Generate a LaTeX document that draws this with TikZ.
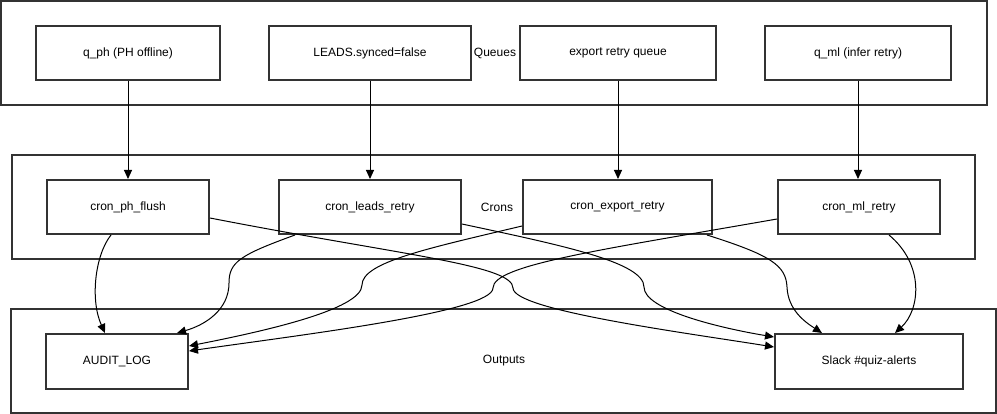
\documentclass[tikz,border=0pt]{standalone}
\usepackage{fontspec}
\setmainfont{Liberation Sans}
\usetikzlibrary{arrows.meta}
\definecolor{edge}{HTML}{333333}
\tikzset{
  grp/.style={draw=edge, line width=2pt, inner sep=0pt},
  box/.style={draw=edge, line width=2pt, fill=white, minimum height=54pt, inner sep=0pt, font=\fontsize{12}{14}\selectfont},
  lbl/.style={font=\fontsize{12}{14}\selectfont, inner sep=0pt},
  conn/.style={draw=black, line width=1pt, -{Triangle[length=9pt,width=8pt]}},
}
\begin{document}
\begin{tikzpicture}[x=1pt,y=-1pt]
\useasboundingbox (0,0) rectangle (997,414);
% groups
\node[grp, minimum width=986pt, minimum height=104pt] (gq) at (494,53) {};
\node[grp, minimum width=963pt, minimum height=104pt] (gc) at (493.5,207) {};
\node[grp, minimum width=985pt, minimum height=104pt] (go) at (503.5,361) {};
\node[lbl] (lq) at (495,53) {Queues};
\node[lbl] (lc) at (497,207) {Crons};
\node[lbl] (lo) at (504,361) {Outputs};
% queue boxes
\node[box, minimum width=184pt] (qph) at (128,53) {q\_ph (PH offline)};
\node[box, minimum width=202pt] (leads) at (370,53) {LEADS.synced=false};
\node[box, minimum width=196pt] (exq) at (618,53) {export retry queue};
\node[box, minimum width=186pt] (qml) at (858,53) {q\_ml (infer retry)};
% crons
\node[box, minimum width=162pt] (cph) at (128,207) {cron\_ph\_flush};
\node[box, minimum width=182pt] (cleads) at (370,207) {cron\_leads\_retry};
\node[box, minimum width=189pt] (cexp) at (617.5,207) {cron\_export\_retry};
\node[box, minimum width=162pt] (cml) at (859,207) {cron\_ml\_retry};
% outputs
\node[box, minimum width=142pt, minimum height=55pt] (audit) at (117,361.5) {AUDIT\_LOG};
\node[box, minimum width=188pt, minimum height=55pt] (slack) at (869,361.5) {Slack \#quiz-alerts};
% queue -> cron
\draw[conn] (qph.south) -- (cph.north);
\draw[conn] (leads.south) -- (cleads.north);
\draw[conn] (exq.south) -- (exq.south |- cexp.north);
\draw[conn] (qml.south) -- (qml.south |- cml.north);
% cron -> outputs
\draw[conn] ([xshift=-17pt]cph.south) .. controls (95,255) and (90,300) .. ([xshift=-12pt]audit.north);
\draw[conn] ([xshift=-75pt]cleads.south) .. controls (240,255) and (229,262) .. (229,283) .. controls (229,310) and (205,325) .. ([xshift=60pt]audit.north);
\draw[conn] ([yshift=-19pt]cexp.west) .. controls (430,248) and (362,262) .. (362,285) .. controls (362,310) and (260,332) .. ([yshift=15.5pt]audit.east);
\draw[conn] ([yshift=-12pt]cml.west) .. controls (600,250) and (493,265) .. (493,288) .. controls (493,312) and (300,335) .. ([yshift=10.5pt]audit.east);
\draw[conn] ([yshift=-11pt]cph.east) .. controls (400,255) and (513,265) .. (513,288) .. controls (513,310) and (680,332) .. ([yshift=14.5pt]slack.west);
\draw[conn] ([yshift=-17pt]cleads.east) .. controls (560,245) and (644,262) .. (644,287) .. controls (644,310) and (720,328) .. ([yshift=24.5pt]slack.west);
\draw[conn] ([xshift=89.5pt]cexp.south) .. controls (770,255) and (786,265) .. (787,287) .. controls (788,310) and (805,322) .. ([xshift=-47pt]slack.north);
\draw[conn] ([xshift=30pt]cml.south) .. controls (925,265) and (920,310) .. ([xshift=26pt]slack.north);
\end{tikzpicture}
\end{document}
